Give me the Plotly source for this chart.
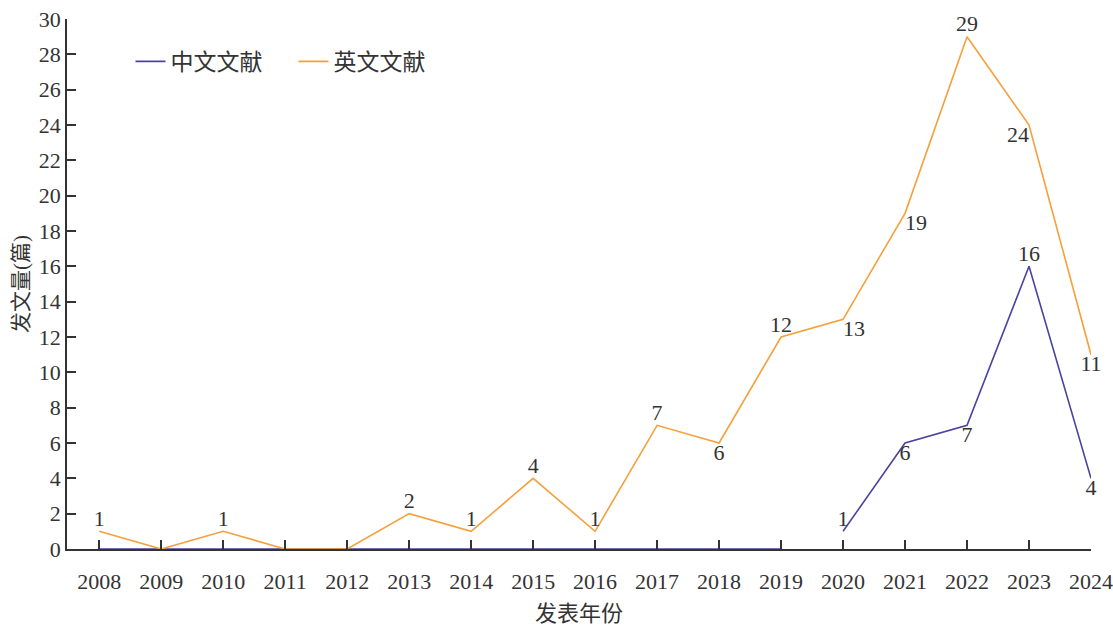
import plotly.graph_objects as go

years = list(range(2008, 2025))
en_values = [1, 0, 1, 0, 0, 2, 1, 4, 1, 7, 6, 12, 13, 19, 29, 24, 11]
cn_values = [0, 0, 0, 0, 0, 0, 0, 0, 0, 0, 0, 0, 1, 6, 7, 16, 4]
cn_break_year = 2020  # Chinese line is drawn as two separate segments

en_positions = ["top center", "top center", "top center", "top center", "top center",
                "top center", "top center", "top center", "top center", "top center",
                "bottom center", "top center", "bottom right", "bottom right",
                "top center", "bottom left", "bottom center"]
cn_positions = ["top center", "bottom center", "bottom center", "top center", "bottom center"]

FONT = "Liberation Serif, Times New Roman, Noto Sans CJK SC, serif"
CN_COLOR = "#4a43a0"
EN_COLOR = "#f5a03a"
AX = "#333333"
FS = 22

en_text = [str(v) if v else "" for v in en_values]

cn_x1 = [y for y in years if y < cn_break_year]
cn_y1 = [v for y, v in zip(years, cn_values) if y < cn_break_year]
cn_x2 = [y for y in years if y >= cn_break_year]
cn_y2 = [v for y, v in zip(years, cn_values) if y >= cn_break_year]

fig = go.Figure()
fig.add_trace(go.Scatter(x=cn_x1, y=cn_y1, mode="lines", name="中文文献",
                         line=dict(color=CN_COLOR, width=1.6), legendgroup="cn",
                         showlegend=True, cliponaxis=False))
fig.add_trace(go.Scatter(x=cn_x2, y=cn_y2, mode="lines+text", name="中文文献",
                         text=[str(v) for v in cn_y2], textposition=cn_positions,
                         textfont=dict(family=FONT, size=FS, color=AX),
                         line=dict(color=CN_COLOR, width=1.6), legendgroup="cn",
                         showlegend=False, cliponaxis=False))
fig.add_trace(go.Scatter(x=years, y=en_values, mode="lines+text", name="英文文献",
                         text=en_text, textposition=en_positions,
                         textfont=dict(family=FONT, size=FS, color=AX),
                         line=dict(color=EN_COLOR, width=1.6),
                         cliponaxis=False))

fig.update_layout(
    width=1113, height=627,
    margin=dict(l=67, r=22, t=19, b=78),
    paper_bgcolor="white", plot_bgcolor="white",
    font=dict(family=FONT, size=FS, color=AX),
    showlegend=True,
    legend=dict(orientation="h", x=0.062, y=0.92, xanchor="left", yanchor="middle",
                font=dict(family=FONT, size=23, color=AX), bgcolor="rgba(0,0,0,0)",
                itemwidth=30, entrywidth=118, entrywidthmode="pixels"),
    xaxis=dict(range=[2007.48, 2024], tickmode="array", tickvals=years,
               ticktext=[str(y) for y in years], showgrid=False, zeroline=False,
               showline=True, linecolor=AX, linewidth=1.5, ticks="inside",
               ticklen=9, tickcolor=AX, tickwidth=1.5, automargin=False,
               ticklabelstandoff=12,
               tickfont=dict(family=FONT, size=FS, color=AX),
               title=dict(text="发表年份", font=dict(family=FONT, size=22, color=AX), standoff=12)),
    yaxis=dict(range=[0, 30], tickmode="linear", tick0=0, dtick=2, showgrid=False,
               zeroline=False, showline=True, linecolor=AX, linewidth=1.5,
               ticks="inside", ticklen=9, tickcolor=AX, tickwidth=1.5, automargin=False,
               tickfont=dict(family=FONT, size=FS, color=AX),
               title=dict(text="发文量(篇)", font=dict(family=FONT, size=21, color=AX), standoff=4)),
)

fig.write_html("out.html", config={"displayModeBar": False},
               post_script="document.body.style.margin='0';document.body.style.overflow='hidden';")
